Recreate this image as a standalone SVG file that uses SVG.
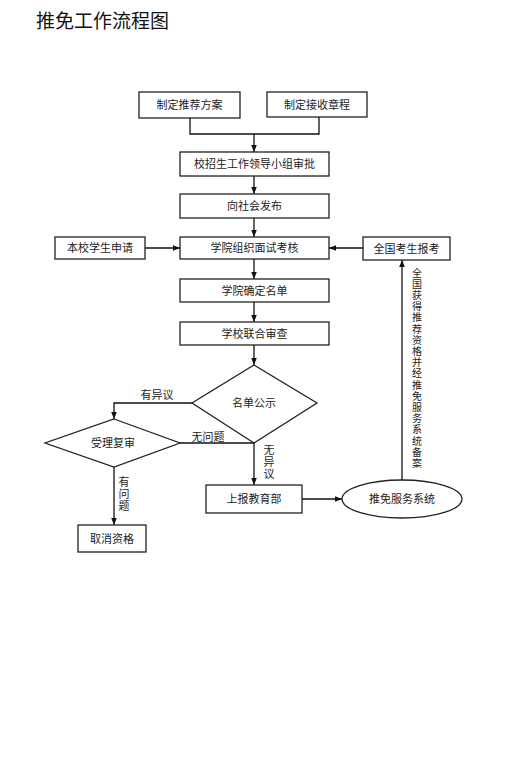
<svg xmlns="http://www.w3.org/2000/svg" width="516" height="768" viewBox="0 0 516 768">
<style>
.box{fill:#fff;stroke:#222;stroke-width:1.3}
.t{font-family:"Liberation Serif","Noto Sans CJK SC",serif;font-size:11px;fill:#222;text-anchor:middle;dominant-baseline:central}
.v{font-size:10px}
.ln{fill:none;stroke:#111;stroke-width:1.3}
.title{font-family:"Noto Sans CJK SC",sans-serif;font-size:19px;fill:#111}
</style>
<defs>
<marker id="ah" viewBox="0 0 10 10" refX="10" refY="5" markerWidth="7" markerHeight="7" orient="auto" markerUnits="userSpaceOnUse">
<path d="M0,1 L10,5 L0,9 z" fill="#111"/>
</marker>
</defs>
<rect width="516" height="768" fill="#fff"/>
<text class="title" x="36" y="28">推免工作流程图</text>

<g id="connectors">
<path class="ln" d="M190,118 V134 H319 V117"/>
<path class="ln" d="M254,134 V152" marker-end="url(#ah)"/>
<path class="ln" d="M254,176 V194" marker-end="url(#ah)"/>
<path class="ln" d="M254,218 V237" marker-end="url(#ah)"/>
<path class="ln" d="M145,248 H180" marker-end="url(#ah)"/>
<path class="ln" d="M363,248 H329" marker-end="url(#ah)"/>
<path class="ln" d="M254,259 V279" marker-end="url(#ah)"/>
<path class="ln" d="M254,302 V322" marker-end="url(#ah)"/>
<path class="ln" d="M254,345 V365" marker-end="url(#ah)"/>
<path class="ln" d="M192,403 H114 V419" marker-end="url(#ah)"/>
<path class="ln" d="M180,443 H254"/>
<path class="ln" d="M254,443 V485" marker-end="url(#ah)"/>
<path class="ln" d="M114,467 V525" marker-end="url(#ah)"/>
<path class="ln" d="M302,499 H342" marker-end="url(#ah)"/>
<path class="ln" d="M402,480 V260" marker-end="url(#ah)"/>
<text class="t" x="157" y="395">有异议</text>
<text class="t" x="208" y="437">无问题</text>
<text class="t" x="269" y="450">无</text>
<text class="t" x="269" y="462">异</text>
<text class="t" x="269" y="474">议</text>
<text class="t" x="124" y="482">有</text>
<text class="t" x="124" y="494">问</text>
<text class="t" x="124" y="506">题</text>
<g id="vlabel">
<text class="t v" x="417" y="273">全</text>
<text class="t v" x="417" y="284.2">国</text>
<text class="t v" x="417" y="295.4">获</text>
<text class="t v" x="417" y="306.6">得</text>
<text class="t v" x="417" y="317.8">推</text>
<text class="t v" x="417" y="329">荐</text>
<text class="t v" x="417" y="340.2">资</text>
<text class="t v" x="417" y="351.4">格</text>
<text class="t v" x="417" y="362.6">并</text>
<text class="t v" x="417" y="373.8">经</text>
<text class="t v" x="417" y="385">推</text>
<text class="t v" x="417" y="396.2">免</text>
<text class="t v" x="417" y="407.4">服</text>
<text class="t v" x="417" y="418.6">务</text>
<text class="t v" x="417" y="429.8">系</text>
<text class="t v" x="417" y="441">统</text>
<text class="t v" x="417" y="452.2">备</text>
<text class="t v" x="417" y="463.4">案</text>
</g>
</g>

<g id="n1"><rect class="box" x="139" y="92" width="101" height="26"/><text class="t" x="189.5" y="105">制定推荐方案</text></g>
<g id="n2"><rect class="box" x="267" y="92" width="100" height="25"/><text class="t" x="317" y="104.5">制定接收章程</text></g>
<g id="n3"><rect class="box" x="180" y="152" width="149" height="24"/><text class="t" x="254.5" y="164">校招生工作领导小组审批</text></g>
<g id="n4"><rect class="box" x="180" y="194" width="149" height="24"/><text class="t" x="254.5" y="206">向社会发布</text></g>
<g id="n5"><rect class="box" x="180" y="237" width="149" height="22"/><text class="t" x="254.5" y="248">学院组织面试考核</text></g>
<g id="n6"><rect class="box" x="55" y="237" width="90" height="22"/><text class="t" x="100" y="248">本校学生申请</text></g>
<g id="n7"><rect class="box" x="363" y="237" width="87" height="23"/><text class="t" x="406.5" y="248.5">全国考生报考</text></g>
<g id="n8"><rect class="box" x="180" y="279" width="149" height="23"/><text class="t" x="254.5" y="290.5">学院确定名单</text></g>
<g id="n9"><rect class="box" x="180" y="322" width="149" height="23"/><text class="t" x="254.5" y="333.5">学校联合审查</text></g>
<g id="n10"><polygon class="box" points="254,365 317,403 254,443 192,403"/><text class="t" x="254" y="403">名单公示</text></g>
<g id="n11"><polygon class="box" points="114,419 180,443 114,467 45,443"/><text class="t" x="113" y="443">受理复审</text></g>
<g id="n12"><rect class="box" x="206" y="485" width="96" height="28"/><text class="t" x="254" y="499">上报教育部</text></g>
<g id="n13"><rect class="box" x="78" y="525" width="68" height="27"/><text class="t" x="112" y="538.5">取消资格</text></g>
<g id="n14"><ellipse class="box" cx="402" cy="499" rx="60" ry="19"/><text class="t" x="402" y="499">推免服务系统</text></g>
</svg>
